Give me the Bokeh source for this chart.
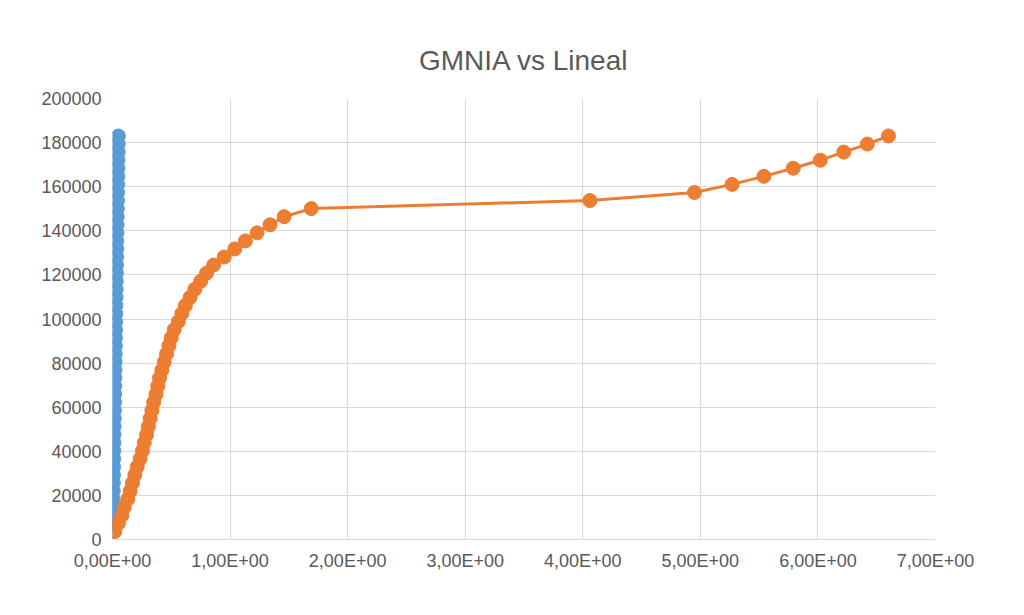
from bokeh.plotting import figure
from bokeh.models import FixedTicker, Range1d
from bokeh.embed import file_html
from bokeh.resources import INLINE

load = [3660*k for k in range(1, 51)]
lineal_x = [0.001, 0.002, 0.003, 0.004, 0.005, 0.006, 0.007, 0.008, 0.009, 0.010,
            0.011, 0.012, 0.013, 0.014, 0.015, 0.016, 0.017, 0.018, 0.019, 0.020,
            0.021, 0.022, 0.023, 0.024, 0.025, 0.026, 0.027, 0.028, 0.029, 0.030,
            0.031, 0.032, 0.033, 0.034, 0.035, 0.036, 0.037, 0.038, 0.039, 0.040,
            0.041, 0.042, 0.043, 0.044, 0.045, 0.046, 0.047, 0.048, 0.049, 0.050]
gmnia_x = [0.02, 0.05, 0.08, 0.10, 0.13, 0.15, 0.17, 0.19, 0.21, 0.235,
           0.255, 0.27, 0.29, 0.305, 0.32, 0.335, 0.35, 0.37, 0.385, 0.40,
           0.42, 0.44, 0.46, 0.48, 0.50, 0.525, 0.56, 0.59, 0.62, 0.66,
           0.70, 0.75, 0.80, 0.86, 0.95, 1.04, 1.13, 1.23, 1.34, 1.46,
           1.69, 4.06, 4.95, 5.27, 5.54, 5.79, 6.02, 6.22, 6.42, 6.60]
x_ticks = [0, 1, 2, 3, 4, 5, 6, 7]
x_labels = ["0,00E+00", "1,00E+00", "2,00E+00", "3,00E+00", "4,00E+00", "5,00E+00", "6,00E+00", "7,00E+00"]
y_ticks = list(range(0, 200001, 20000))

p = figure(width=1008, height=599, output_backend="svg", toolbar_location=None,
           x_range=Range1d(0, 7), y_range=Range1d(0, 200000),
           min_border_left=112, min_border_right=73, min_border_top=98, min_border_bottom=60,
           title="GMNIA vs Lineal")
p.title.align = "center"
p.title.text_font = "Liberation Sans"
p.title.text_font_size = "28px"
p.title.text_font_style = "normal"
p.title.text_color = "#595959"
p.title.standoff = 45
p.outline_line_color = None
p.border_fill_color = "white"

p.xaxis.ticker = FixedTicker(ticks=x_ticks)
p.xaxis.major_label_overrides = {t: l for t, l in zip(x_ticks, x_labels)}
p.yaxis.ticker = FixedTicker(ticks=y_ticks)
p.yaxis.major_label_overrides = {t: str(t) for t in y_ticks}
for ax in (p.xaxis, p.yaxis):
    ax.major_label_text_font = "Liberation Sans"
    ax.major_label_text_font_size = "18px"
    ax.major_label_text_color = "#595959"
    ax.major_tick_line_color = None
    ax.minor_tick_line_color = None
p.yaxis.axis_line_color = None
p.xaxis.axis_line_color = "#d9d9d9"
p.xgrid.ticker = FixedTicker(ticks=x_ticks)
p.ygrid.ticker = FixedTicker(ticks=y_ticks)
p.xgrid.grid_line_color = "#d9d9d9"
p.ygrid.grid_line_color = "#d9d9d9"

p.line(lineal_x, load, line_color="#5b9bd5", line_width=3)
p.scatter(lineal_x, load, size=14, fill_color="#5b9bd5", line_color="#5b9bd5")
p.line(gmnia_x, load, line_color="#ed7d31", line_width=3)
p.scatter(gmnia_x, load, size=14, fill_color="#ed7d31", line_color="#ed7d31")

open("out.html", "w").write(file_html(p, INLINE))
